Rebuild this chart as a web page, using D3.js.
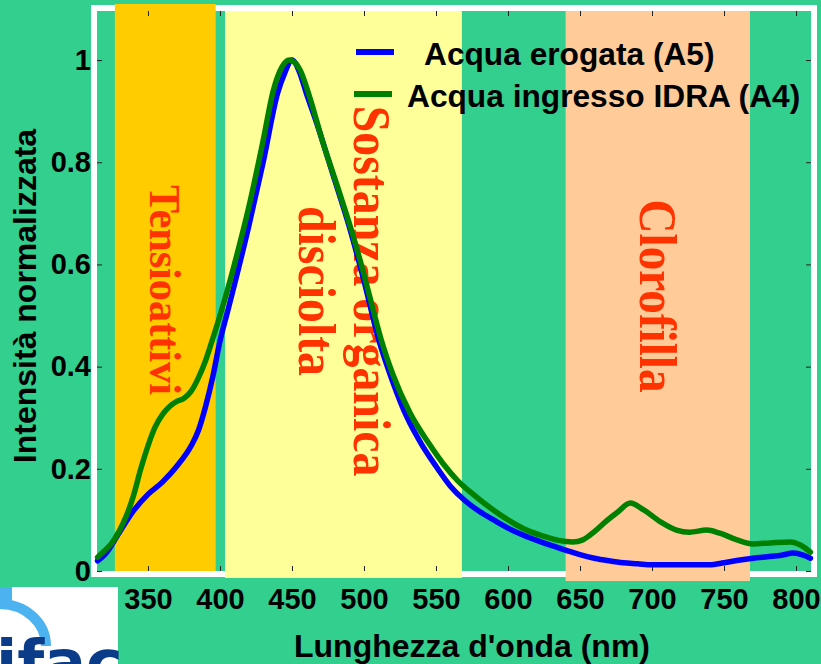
<!DOCTYPE html>
<html>
<head>
<meta charset="utf-8">
<script src="https://cdn.jsdelivr.net/npm/d3@7.9.0/dist/d3.min.js"></script>
<style>
html, body { margin: 0; padding: 0; background: #33cf8f; }
svg { display: block; }
text { font-family: "Liberation Sans", Arial, sans-serif; font-weight: bold; }
.band-label { font-family: "Liberation Serif", "Times New Roman", serif; fill: #ff3300; }
</style>
</head>
<body>
<svg id="chart" width="821" height="664"></svg>
<script>
// tick values
const xTicks = [350, 400, 450, 500, 550, 600, 650, 700, 750, 800];
const yTicks = [0, 0.2, 0.4, 0.6, 0.8, 1];

// highlighted wavelength ranges (nm)
const bandStart = [327, 403.5, 640];
const bandEnd = [397, 568, 768];
const bandColors = ['#ffcc00', '#ffff99', '#ffcc99'];
const bandLabels = [['Tensioattivi'], ['Sostanza organica', 'disciolta'], ['Clorofilla']];

// series: [wavelength nm, normalised intensity]
const acquaErogata = [
    [315, 0.02], [320, 0.032], [330, 0.075], [340, 0.118], [350, 0.15], [360, 0.174],
    [370, 0.205], [380, 0.245], [385, 0.275], [390, 0.322], [395, 0.38], [400, 0.45],
    [405, 0.505], [410, 0.56], [420, 0.675], [430, 0.80], [440, 0.935], [445, 0.975],
    [450, 1.0], [455, 0.978], [460, 0.935], [467, 0.878], [478, 0.78], [490, 0.672],
    [500, 0.568], [510, 0.455], [520, 0.37], [530, 0.30], [540, 0.248], [550, 0.205],
    [560, 0.166], [570, 0.138], [580, 0.117], [590, 0.10], [600, 0.084], [610, 0.071],
    [620, 0.06], [630, 0.05], [640, 0.041], [650, 0.032], [660, 0.025], [670, 0.02],
    [680, 0.016], [690, 0.014], [700, 0.012], [720, 0.012], [740, 0.012], [750, 0.016],
    [760, 0.021], [770, 0.025], [780, 0.028], [790, 0.031], [798, 0.035], [805, 0.031],
    [810, 0.025]
];
const acquaIngresso = [
    [315, 0.027], [320, 0.04], [325, 0.055], [330, 0.078], [335, 0.108], [340, 0.148],
    [345, 0.2], [350, 0.245], [355, 0.282], [360, 0.306], [365, 0.322], [370, 0.332],
    [375, 0.338], [380, 0.352], [385, 0.378], [390, 0.412], [395, 0.455], [400, 0.5],
    [405, 0.548], [410, 0.6], [420, 0.712], [430, 0.843], [437, 0.94], [443, 0.986],
    [448, 1.0], [452, 0.995], [456, 0.978], [462, 0.93], [471, 0.843], [483, 0.74],
    [492, 0.66], [500, 0.58], [506, 0.515], [512, 0.452], [520, 0.385], [532, 0.309],
    [545, 0.25], [555, 0.21], [565, 0.177], [575, 0.152], [590, 0.119], [600, 0.10],
    [613, 0.08], [625, 0.068], [635, 0.06], [645, 0.057], [652, 0.061], [660, 0.077],
    [668, 0.097], [676, 0.115], [685, 0.133], [694, 0.12], [706, 0.096], [717, 0.08],
    [726, 0.076], [738, 0.08], [747, 0.074], [759, 0.061], [770, 0.053], [782, 0.055],
    [796, 0.057], [803, 0.051], [810, 0.037]
];
const seriesNames = ['Acqua erogata (A5)', 'Acqua ingresso IDRA (A4)'];
const seriesColors = ['#0000ff', '#008000'];

const plotLeft = 97, plotRight = 811, plotTop = 11, plotBottom = 571;

const svg = d3.select('#chart');

const x = d3.scaleLinear().domain([314.6, 810.4]).range([plotLeft, plotRight]);
const y = d3.scaleLinear().domain([0, 1.096]).range([plotBottom, plotTop]);

// background + white frame
svg.append('rect').attr('width', 821).attr('height', 664).attr('fill', '#33cf8f');
svg.append('rect')
    .attr('x', plotLeft - 3).attr('y', plotTop - 3)
    .attr('width', plotRight - plotLeft + 6).attr('height', plotBottom - plotTop + 6)
    .attr('fill', 'none').attr('stroke', '#fff').attr('stroke-width', 6);

// coloured bands (each pokes a little differently past the frame, as in the original)
const bandTopExtra = [7, 0, 0];
const bandBottomExtra = [0, 7, 10];
bandStart.forEach((s, i) => {
    svg.append('rect')
        .attr('x', x(s))
        .attr('y', plotTop - bandTopExtra[i])
        .attr('width', x(bandEnd[i]) - x(s))
        .attr('height', plotBottom - plotTop + bandTopExtra[i] + bandBottomExtra[i])
        .attr('fill', bandColors[i]);
});

// ticks (inward on all four sides)
const fmt = d => String(+d.toFixed(1));
svg.append('g').attr('transform', `translate(0,${plotBottom})`)
    .call(d3.axisBottom(x).tickValues(xTicks).tickSize(-5).tickPadding(17).tickFormat(fmt));
svg.append('g').attr('transform', `translate(0,${plotTop})`)
    .call(d3.axisTop(x).tickValues(xTicks).tickSize(-5).tickFormat(''));
svg.append('g').attr('transform', `translate(${plotLeft},0)`)
    .call(d3.axisLeft(y).tickValues(yTicks).tickSize(-5).tickPadding(6).tickFormat(fmt));
svg.append('g').attr('transform', `translate(${plotRight},0)`)
    .call(d3.axisRight(y).tickValues(yTicks).tickSize(-5).tickFormat(''));
svg.selectAll('.domain').remove();
svg.selectAll('.tick line').attr('stroke', '#222').attr('stroke-width', 1);
svg.selectAll('.tick text')
    .attr('fill', '#000')
    .style('font-size', '29px')
    .style('font-family', '"Liberation Sans", Arial, sans-serif')
    .style('font-weight', 'bold');

// band labels, rotated, in serif red
const labelFont = [45, 52, 53];
const labelScale = [0.94, 0.92, 0.89];
const labelMidY = [290, 291, 296];
bandLabels.forEach((lines, i) => {
    const cx = (x(bandStart[i]) + x(bandEnd[i])) / 2;
    const cap = 0.66 * labelFont[i];
    const gap = 55;
    lines.forEach((t, j) => {
        const bx = cx + (lines.length - 1) * gap / 2 - j * gap - cap / 2;
        svg.append('text')
            .attr('class', 'band-label')
            .attr('transform', `translate(${bx},${labelMidY[i]}) rotate(90) scale(${labelScale[i]},1)`)
            .attr('text-anchor', 'middle')
            .style('font-size', labelFont[i] + 'px')
            .text(t);
    });
});

// curves
const line = d3.line()
    .x(d => x(d[0]))
    .y(d => y(d[1]))
    .curve(d3.curveMonotoneX);

[acquaErogata, acquaIngresso].forEach((data, i) => {
    svg.append('path')
        .datum(data)
        .attr('d', line)
        .attr('fill', 'none')
        .attr('stroke', seriesColors[i])
        .attr('stroke-width', 5.5)
        .attr('stroke-linejoin', 'round')
        .attr('stroke-linecap', 'round');
});

// legend
const legendY = [52, 94];
const legendTextX = [424, 407];
seriesNames.forEach((name, i) => {
    svg.append('line')
        .attr('x1', 356 - 2 * i).attr('x2', 394 - 2 * i)
        .attr('y1', legendY[i]).attr('y2', legendY[i])
        .attr('stroke', seriesColors[i]).attr('stroke-width', 6);
    svg.append('text')
        .attr('x', legendTextX[i]).attr('y', legendY[i] + 13)
        .style('font-size', '31.7px')
        .attr('fill', '#000')
        .text(name);
});

// axis titles
svg.append('text')
    .attr('x', 472).attr('y', 657)
    .attr('text-anchor', 'middle')
    .style('font-size', '32px')
    .text("Lunghezza d'onda (nm)");
svg.append('text')
    .attr('transform', 'translate(36,296) rotate(-90)')
    .attr('text-anchor', 'middle')
    .style('font-size', '32px')
    .text('Intensità normalizzata');

// logo corner (cropped by the page edge, as in the original)
const logo = svg.append('g');
logo.append('rect').attr('x', 0).attr('y', 587).attr('width', 118).attr('height', 77).attr('fill', '#fff');
logo.append('rect').attr('x', 0).attr('y', 587).attr('width', 12).attr('height', 13).attr('fill', '#4db2f0');
logo.append('path')
    .attr('d', 'M0,604 A46,42 0 0 1 46,646')
    .attr('fill', 'none').attr('stroke', '#4db2f0').attr('stroke-width', 10);
logo.append('text')
    .attr('x', -4).attr('y', 684)
    .style('font-size', '62px')
    .style('font-family', '"DejaVu Sans", sans-serif')
    .attr('fill', '#0b3c8a')
    .text('ifac');
</script>
</body>
</html>
